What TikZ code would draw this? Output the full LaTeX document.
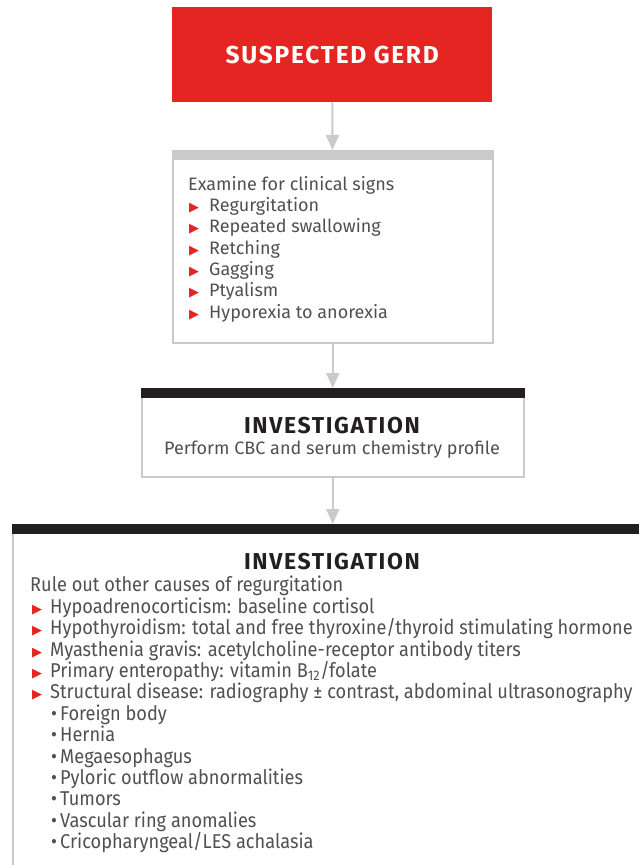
\documentclass[tikz,border=0pt]{standalone}
\usepackage{fontspec}
\setmainfont{Fira Sans}
\newfontfamily\condfont[FakeStretch=0.91]{Fira Sans}
\newfontfamily\headfont[LetterSpace=7]{Fira Sans}
\newfontfamily\symfont{DejaVu Sans}
\usetikzlibrary{arrows.meta,positioning}
\definecolor{gerdred}{HTML}{E52521}
\definecolor{boxgray}{HTML}{C9CACC}
\definecolor{bardark}{HTML}{231F20}
\definecolor{txtgray}{HTML}{505050}
\newcommand{\tri}{\makebox[21pt][l]{\hspace{1pt}\color{gerdred}\symfont\fontsize{13}{13}\selectfont ▶}}
\newcommand{\ctri}{\makebox[20pt][l]{\hspace{2pt}\color{gerdred}\symfont\fontsize{13}{13}\selectfont ▶}}
\newcommand{\dotitem}{\makebox[10pt][l]{\hspace{1pt}•}}
\begin{document}
\begin{tikzpicture}[x=1pt,y=-1pt]
  \tikzstyle{box}=[draw=boxgray,line width=1.5pt,anchor=north west,inner sep=0pt]
  \tikzstyle{flow}=[draw=boxgray,line width=2pt,-{Triangle[length=15pt,width=13pt]}]
  \tikzstyle{head}=[font=\headfont\bfseries\fontsize{23}{23}\selectfont,text=bardark]
  \tikzstyle{list}=[anchor=north west,inner sep=0pt,align=left,text=txtgray]
  \useasboundingbox (0,0) rectangle (639,865);
  % red start box
  \node (b1) [fill=gerdred,anchor=north west,minimum width=320pt,minimum height=95pt,
    text=white,font=\headfont\bfseries\fontsize{24.5}{24.5}\selectfont] at (172,7) {\raisebox{-1pt}{SUSPECTED GERD}};
  % clinical signs
  \node (b2) [box,minimum width=320pt,minimum height=192pt] at (172,150) {};
  \fill[boxgray] (b2.north west) rectangle ([yshift=-10pt]b2.north east);
  \node (s2) [list,font=\fontsize{18}{21.3}\selectfont] at (188,176)
    {Examine for clinical signs\\
     \tri Regurgitation\\
     \tri Repeated swallowing\\
     \tri Retching\\
     \tri Gagging\\
     \tri Ptyalism\\
     \tri Hyporexia to anorexia};
  % first investigation
  \node (b3) [box,minimum width=382pt,minimum height=88pt] at (141,388) {};
  \fill[bardark] (b3.north west) rectangle ([yshift=-10pt]b3.north east);
  \node (t3) [head] at (332,426) {INVESTIGATION};
  \node (p3) [text=txtgray,font=\fontsize{18}{21}\selectfont] at (332,449)
    {Perform CBC and serum chemistry profile};
  % second investigation
  \node (b4) [box,minimum width=660pt,minimum height=380pt] at (12,524) {};
  \fill[bardark] (b4.north west) rectangle ([yshift=-10pt]b4.north east);
  \node (t4) [head] at (332,562) {INVESTIGATION};
  \node (l4) [list,font=\condfont\fontsize{20}{21.4}\selectfont] at (30,576)
    {Rule out other causes of regurgitation\\
     \ctri Hypoadrenocorticism: baseline cortisol\\
     \ctri Hypothyroidism: total and free thyroxine/thyroid stimulating hormone\\
     \ctri Myasthenia gravis: acetylcholine-receptor antibody titers\\
     \ctri Primary enteropathy: vitamin B\textsubscript{12}/folate\\
     \ctri Structural disease: radiography ± contrast, abdominal ultrasonography\\
     \hspace{20pt}\dotitem Foreign body\\
     \hspace{20pt}\dotitem Hernia\\
     \hspace{20pt}\dotitem Megaesophagus\\
     \hspace{20pt}\dotitem Pyloric outflow abnormalities\\
     \hspace{20pt}\dotitem Tumors\\
     \hspace{20pt}\dotitem Vascular ring anomalies\\
     \hspace{20pt}\dotitem Cricopharyngeal/LES achalasia};
  % connectors
  \draw[flow] (b1) -- (b2);
  \draw[flow] (b2) -- (b3);
  \draw[flow] (b3) -- (b4.north -| b3.south);
\end{tikzpicture}
\end{document}
